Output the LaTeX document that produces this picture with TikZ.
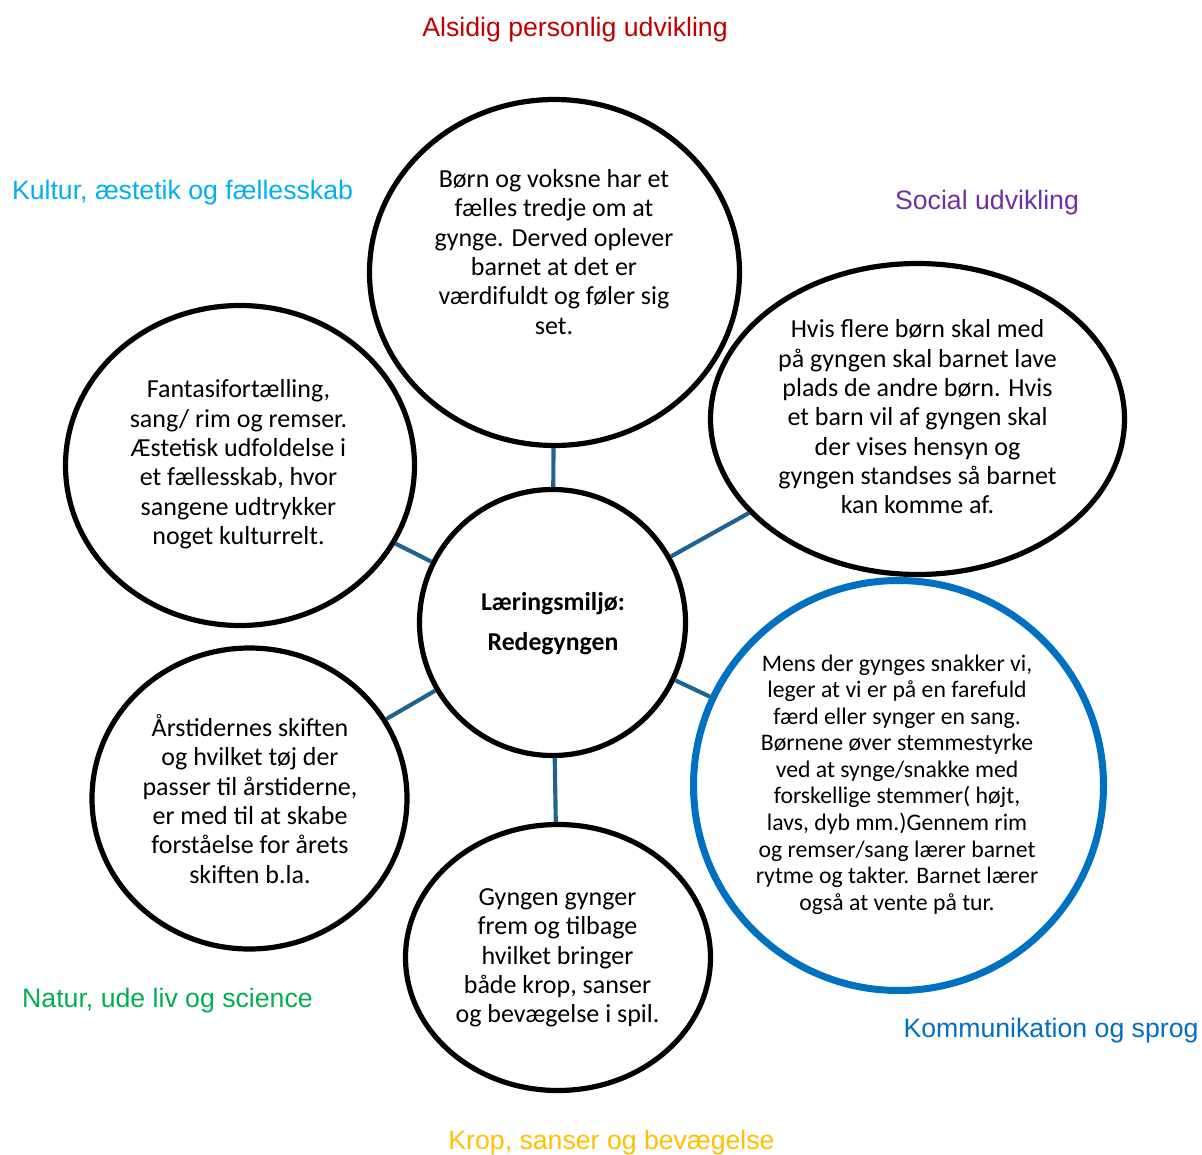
\documentclass[tikz,border=0pt]{standalone}
\usepackage{fontspec}
\setmainfont{Carlito}
\newfontfamily\arialf{Liberation Sans}
\usetikzlibrary{shapes.geometric}
\definecolor{conn}{HTML}{1F6491}
\definecolor{blueline}{HTML}{0070C0}
\definecolor{lred}{HTML}{C00000}
\definecolor{lcyan}{HTML}{00B0F0}
\definecolor{lpurple}{HTML}{7030A0}
\definecolor{lgreen}{HTML}{00B050}
\definecolor{lblue}{HTML}{0070C0}
\definecolor{lgold}{HTML}{FFC000}
\begin{document}
\begin{tikzpicture}[x=0.75pt,y=-0.75pt,
  bubble/.style={ellipse, draw=black, line width=3.9pt, fill=white, inner sep=0pt},
  bubtext/.style={align=center, font=\fontsize{19.5}{22}\selectfont, inner sep=0pt},
  smalltext/.style={align=center, font=\fontsize{17.8}{19.9}\selectfont, inner sep=0pt},
  centertext/.style={align=center, font=\bfseries\fontsize{19.3}{30}\selectfont, inner sep=0pt},
  areal/.style={font=\arialf\fontsize{20}{24}\selectfont, inner sep=0pt},
  link/.style={draw=conn, line width=3.1pt}]
\useasboundingbox[fill=white] (0,0) rectangle (1202,1155);

% bubbles
\node[bubble, minimum width=277.5pt, minimum height=259.5pt] (top) at (554.5,272.5) {};
\node[bubble, minimum width=199.5pt, minimum height=199.5pt] (mid) at (552.5,622.5) {};
\node[bubble, minimum width=310.5pt, minimum height=233.25pt] (right) at (917.5,419) {};
\node[bubble, minimum width=261.75pt, minimum height=240pt] (left) at (240,465.5) {};
\node[bubble, draw=blueline, line width=5.25pt, minimum width=307.5pt, minimum height=307.5pt] (blue) at (898.5,785.5) {};
\node[bubble, minimum width=236.25pt, minimum height=225.75pt] (bl) at (249.5,798.5) {};
\node[bubble, minimum width=228.75pt, minimum height=199.5pt] (bot) at (558,957.5) {};

% connectors
\draw[link] (mid) -- (top);
\draw[link] (mid) -- (right);
\draw[link] (mid) -- (left);
\draw[link] (mid) -- (blue);
\draw[link] (mid) -- (bl);
\draw[link] (mid) -- (bot);

% texts in bubbles
\node[bubtext] (toptxt) at (554,252) {Børn og voksne har et\\fælles tredje om at\\gynge. Derved oplever\\barnet at det er\\værdifuldt og føler sig\\set.};
\node[centertext] (midtxt) at (553,624) {Læringsmiljø:\\Redegyngen};
\node[bubtext] (righttxt) at (917.5,417) {Hvis flere børn skal med\\på gyngen skal barnet lave\\plads de andre børn. Hvis\\et barn vil af gyngen skal\\der vises hensyn og\\gyngen standses så barnet\\kan komme af.};
\node[bubtext] (lefttxt) at (238.5,464.5) {Fantasifortælling,\\sang/ rim og remser.\\Æstetisk udfoldelse i\\et fællesskab, hvor\\sangene udtrykker\\noget kulturrelt.};
\node[smalltext] (bluetxt) at (897,784.5) {Mens der gynges snakker vi,\\leger at vi er på en farefuld\\færd eller synger en sang.\\Børnene øver stemmestyrke\\ved at synge/snakke med\\forskellige stemmer( højt,\\lavs, dyb mm.)Gennem rim\\og remser/sang lærer barnet\\rytme og takter. Barnet lærer\\også at vente på tur.};
\node[bubtext] (bltxt) at (250,799) {Årstidernes skiften\\og hvilket tøj der\\passer til årstiderne,\\er med til at skabe\\forståelse for årets\\skiften b.la.};
\node[bubtext] (bottxt) at (557.5,958) {Gyngen gynger\\frem og tilbage\\hvilket bringer\\både krop, sanser\\og bevægelse i spil.};

% area labels
\node[areal, text=lred] (lalsidig) at (575,30) {Alsidig personlig udvikling};
\node[areal, text=lcyan] (lkultur) at (182.5,193) {Kultur, æstetik og fællesskab};
\node[areal, text=lpurple] (lsocial) at (987,203) {Social udvikling};
\node[areal, text=lgreen] (lnatur) at (167.5,1001) {Natur, ude liv og science};
\node[areal, text=lblue] (lkomm) at (1051,1031) {Kommunikation og sprog};
\node[areal, text=lgold] (lkrop) at (611.5,1143) {Krop, sanser og bevægelse};
\end{tikzpicture}
\end{document}
